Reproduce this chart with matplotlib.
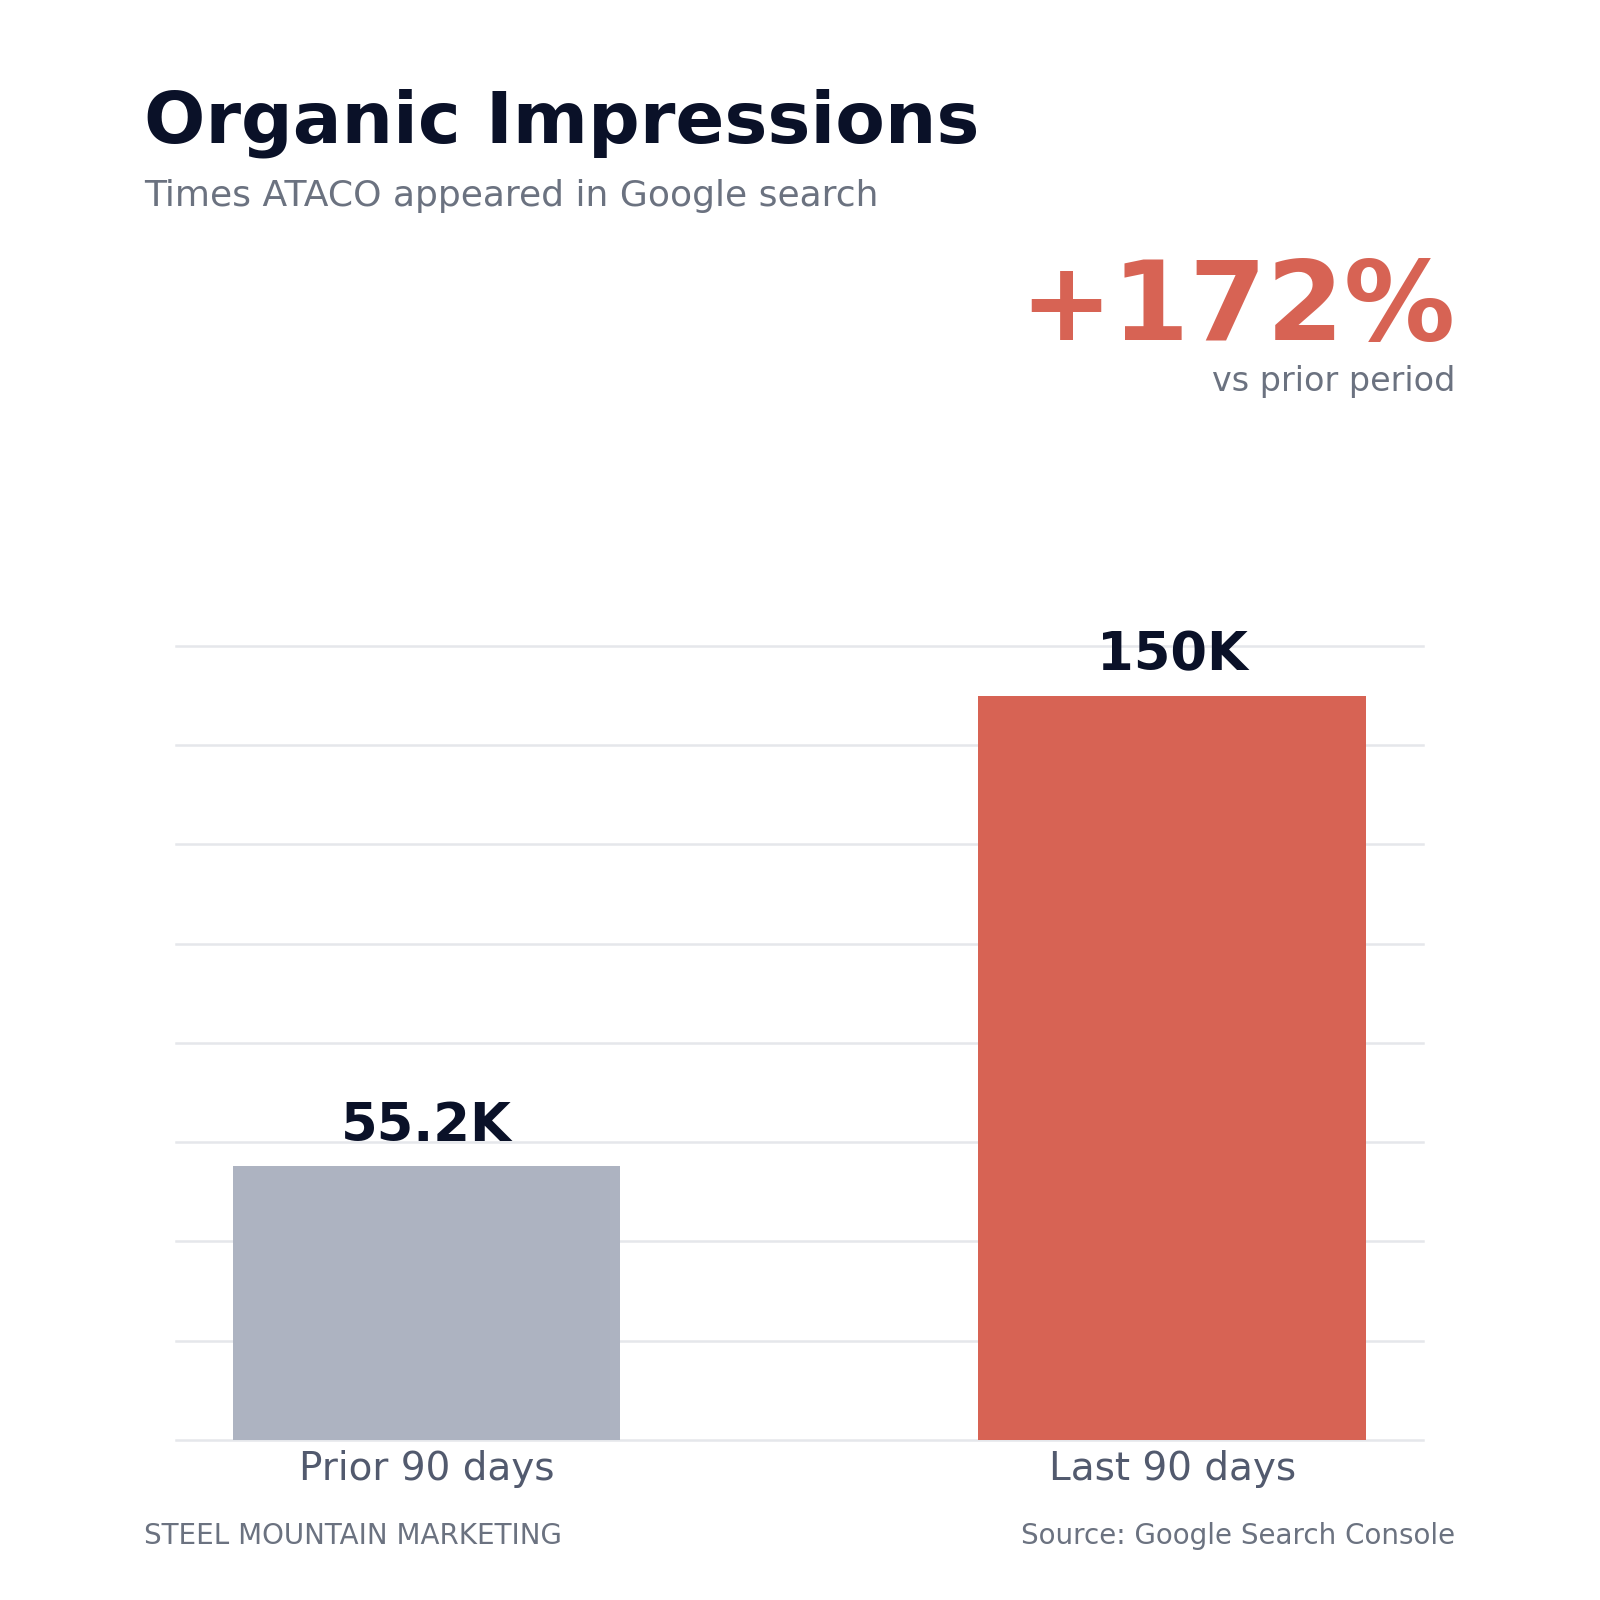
import matplotlib.pyplot as plt
from matplotlib.ticker import MultipleLocator

# data
periods = ["Prior 90 days", "Last 90 days"]
impressions_k = [55.2, 150.0]
value_labels = ["55.2K", "150K"]
change_label = "+172%"

DARK = "#0a1128"
GRAY = "#6b7280"
RED = "#d76354"
BAR_GRAY = "#adb3c1"
GRID = "#e5e7eb"

fig = plt.figure(figsize=(16, 16), dpi=100)
fig.patch.set_facecolor("white")

ax = fig.add_axes([0.1097, 0.1, 0.7797, 0.4963])
ax.bar(range(len(periods)), impressions_k, width=0.52,
       color=[BAR_GRAY, RED], zorder=3)
ax.set_xlim(-0.3365, 1.3365)
ax.set_ylim(0, 160)
ax.yaxis.set_major_locator(MultipleLocator(20))
ax.grid(axis="y", color=GRID, linewidth=1.8, zorder=0)
for gl in ax.get_ygridlines():
    gl.set_clip_on(False)
ax.set_axisbelow(True)
for s in ax.spines.values():
    s.set_visible(False)
ax.tick_params(axis="y", left=False, labelleft=False)
ax.tick_params(axis="x", length=0, pad=7, labelsize=28, labelcolor="#525a6e")
ax.set_xticks(range(len(periods)))
ax.set_xticklabels(periods)

for i, (v, lab) in enumerate(zip(impressions_k, value_labels)):
    ax.annotate(lab, (i, v), xytext=(0, 18), textcoords="offset points",
                ha="center", va="baseline", fontsize=38, fontweight="bold",
                color=DARK, annotation_clip=False)

# header
fig.text(0.09, 1 - 143 / 1600, "Organic Impressions", fontsize=52,
         fontweight="bold", color=DARK, va="baseline", ha="left")
fig.text(0.09, 1 - 206 / 1600, "Times ATACO appeared in Google search",
         fontsize=26, color=GRAY, va="baseline", ha="left")

fig.text(0.9094, 1 - 340 / 1600, change_label, fontsize=80,
         fontweight="bold", color=RED, va="baseline", ha="right")
fig.text(0.9094, 1 - 391 / 1600, "vs prior period", fontsize=24,
         color=GRAY, va="baseline", ha="right")

# footer
fig.text(0.09, 1 - 1544 / 1600, "STEEL MOUNTAIN MARKETING", fontsize=20,
         color=GRAY, va="baseline", ha="left")
fig.text(0.9094, 1 - 1544 / 1600, "Source: Google Search Console",
         fontsize=20, color=GRAY, va="baseline", ha="right")

fig.savefig("out.png", dpi=100, facecolor="white")
